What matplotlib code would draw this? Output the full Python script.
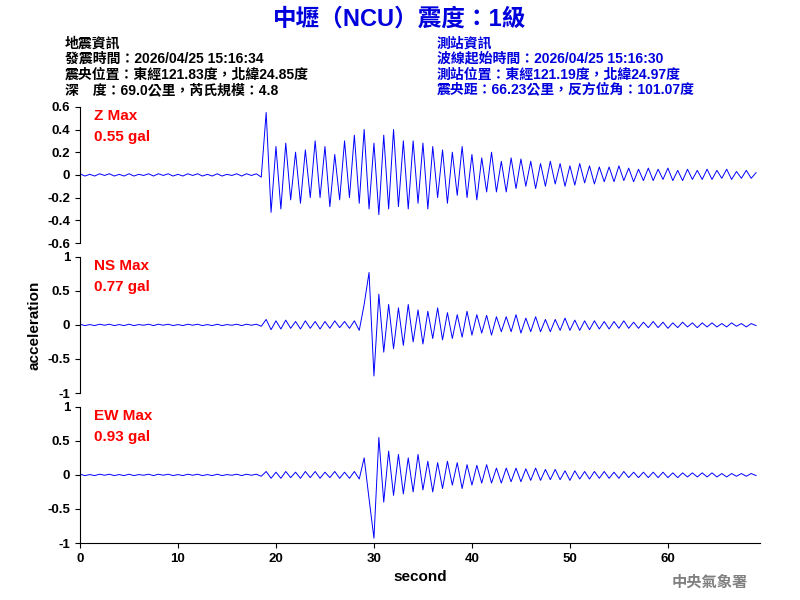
import numpy as np
import matplotlib.pyplot as plt

plt.rcParams['font.family'] = ['Liberation Sans', 'Noto Sans CJK TC', 'DejaVu Sans']
plt.rcParams['font.weight'] = 'bold'
plt.rcParams['axes.labelweight'] = 'bold'

# sample times (s), one reading every 0.5 s
dt = 0.5
pre = [0.01, -0.01, 0.005, -0.01, 0.01, -0.005, 0.01, -0.01, 0.005, -0.01,
       0.01, -0.01, 0.005, -0.005, 0.01, -0.01, 0.01, -0.005, 0.01, -0.01,
       0.005, -0.01, 0.01, -0.005, 0.01, -0.01, 0.005, -0.01, 0.01, -0.01,
       0.005, -0.005, 0.01, -0.01, 0.01, -0.005, 0.01, -0.02]

z_vals = pre + [
    0.55, -0.33, 0.25, -0.3, 0.28, -0.22, 0.2, -0.25, 0.22, -0.2,
    0.3, -0.2, 0.25, -0.28, 0.18, -0.22, 0.3, -0.2, 0.35, -0.25,
    0.4, -0.3, 0.28, -0.35, 0.35, -0.3, 0.4, -0.28, 0.3, -0.3,
    0.3, -0.25, 0.28, -0.3, 0.25, -0.2, 0.22, -0.25, 0.2, -0.18,
    0.25, -0.2, 0.18, -0.22, 0.15, -0.15, 0.2, -0.15, 0.12, -0.15,
    0.15, -0.12, 0.14, -0.1, 0.12, -0.12, 0.1, -0.1, 0.12, -0.08,
    0.1, -0.1, 0.08, -0.09, 0.1, -0.07, 0.08, -0.08, 0.07, -0.06,
    0.07, -0.06, 0.08, -0.05, 0.06, -0.06, 0.05, -0.05, 0.06, -0.05,
    0.05, -0.04, 0.06, -0.05, 0.04, -0.05, 0.05, -0.04, 0.04, -0.04,
    0.05, -0.04, 0.04, -0.03, 0.05, -0.04, 0.03, -0.03, 0.04, -0.03, 0.02]

ns_vals = pre + [
    0.08, -0.07, 0.06, -0.06, 0.07, -0.05, 0.05, -0.06, 0.06, -0.05,
    0.05, -0.06, 0.05, -0.05, 0.06, -0.04, 0.05, -0.05, 0.06, -0.08,
    0.3, 0.77, -0.75, 0.45, -0.4, 0.3, -0.35, 0.25, -0.3, 0.3,
    -0.25, 0.22, -0.28, 0.2, -0.2, 0.25, -0.22, 0.18, -0.2, 0.15,
    -0.18, 0.2, -0.15, 0.15, -0.12, 0.14, -0.15, 0.12, -0.1, 0.12,
    -0.1, 0.15, -0.12, 0.1, -0.1, 0.12, -0.1, 0.08, -0.1, 0.08,
    -0.08, 0.1, -0.08, 0.07, -0.08, 0.06, -0.07, 0.06, -0.06, 0.05,
    -0.06, 0.05, -0.05, 0.06, -0.05, 0.04, -0.05, 0.04, -0.04, 0.05,
    -0.04, 0.04, -0.05, 0.03, -0.04, 0.04, -0.03, 0.03, -0.04, 0.03,
    -0.03, 0.03, -0.03, 0.02, -0.03, 0.03, -0.02, 0.02, -0.03, 0.02, -0.01]

ew_vals = pre + [
    0.05, -0.05, 0.04, -0.05, 0.05, -0.04, 0.04, -0.05, 0.05, -0.04,
    0.05, -0.05, 0.04, -0.04, 0.05, -0.05, 0.04, -0.05, 0.05, -0.06,
    0.25, -0.35, -0.93, 0.55, -0.4, 0.35, -0.3, 0.3, -0.28, 0.25,
    -0.25, 0.3, -0.22, 0.2, -0.25, 0.18, -0.2, 0.2, -0.15, 0.18,
    -0.2, 0.15, -0.15, 0.14, -0.12, 0.15, -0.12, 0.1, -0.12, 0.1,
    -0.1, 0.1, -0.1, 0.09, -0.08, 0.1, -0.08, 0.08, -0.07, 0.08,
    -0.07, 0.06, -0.08, 0.06, -0.06, 0.05, -0.06, 0.05, -0.05, 0.05,
    -0.05, 0.04, -0.05, 0.05, -0.04, 0.04, -0.04, 0.04, -0.04, 0.04,
    -0.04, 0.04, -0.04, 0.03, -0.04, 0.03, -0.03, 0.03, -0.03, 0.03,
    -0.03, 0.03, -0.03, 0.02, -0.03, 0.02, -0.02, 0.02, -0.02, 0.02, -0.01]

t = np.arange(len(z_vals)) * dt

channels = ["Z", "NS", "EW"]
traces = [z_vals, ns_vals, ew_vals]
max_labels = ["0.55 gal", "0.77 gal", "0.93 gal"]
ylims = [0.6, 1.0, 1.0]
yticks = [np.arange(-0.6, 0.61, 0.2), [-1, -0.5, 0, 0.5, 1], [-1, -0.5, 0, 0.5, 1]]
ytick_labels = [["-0.6", "-0.4", "-0.2", "0", "0.2", "0.4", "0.6"],
                ["-1", "-0.5", "0", "0.5", "1"], ["-1", "-0.5", "0", "0.5", "1"]]

fig = plt.figure(figsize=(8, 6), dpi=100)
fig.text(0.5, 0.968, "中壢（NCU）震度：1級", color="#0000dd", fontsize=17,
         fontweight="bold", ha="center", va="center")

left_info = ["地震資訊", "發震時間：2026/04/25 15:16:34",
             "震央位置：東經121.83度，北緯24.85度", "深　度：69.0公里，芮氏規模：4.8"]
right_info = ["測站資訊", "波線起始時間：2026/04/25 15:16:30",
              "測站位置：東經121.19度，北緯24.97度", "震央距：66.23公里，反方位角：101.07度"]
for i, (l, r) in enumerate(zip(left_info, right_info)):
    y = 0.928 - i * 0.026
    fig.text(0.081, y, l, fontsize=10, fontweight="bold", color="black", va="center")
    fig.text(0.546, y, r, fontsize=10, fontweight="bold", color="#0000dd", va="center")

bottoms = [0.595, 0.345, 0.095]
for i, ch in enumerate(channels):
    ax = fig.add_axes([0.1, bottoms[i], 0.85, 0.227])
    ax.plot(t, traces[i], color="blue", linewidth=0.7)
    ax.set_xlim(0, 69.4)
    ax.set_ylim(-ylims[i], ylims[i])
    ax.set_yticks(yticks[i])
    ax.set_yticklabels(ytick_labels[i], fontsize=9.5)
    ax.spines[["top", "right"]].set_visible(False)
    ax.text(0.02, 0.93, f"{ch} Max", transform=ax.transAxes, color="red",
            fontsize=11, va="center")
    ax.text(0.02, 0.78, max_labels[i], transform=ax.transAxes, color="red",
            fontsize=11, va="center")
    if i < 2:
        ax.spines["bottom"].set_visible(False)
        ax.set_xticks([])
    else:
        ax.set_xticks([0, 10, 20, 30, 40, 50, 60])
        ax.tick_params(labelsize=9.5)
        ax.set_xlabel("second", fontsize=11)
    if i == 1:
        ax.set_ylabel("acceleration", fontsize=11)

fig.text(0.935, 0.03, "中央氣象署", color="gray", fontsize=11, fontweight="bold",
         ha="right", va="center")

plt.savefig("out.png", dpi=100)
